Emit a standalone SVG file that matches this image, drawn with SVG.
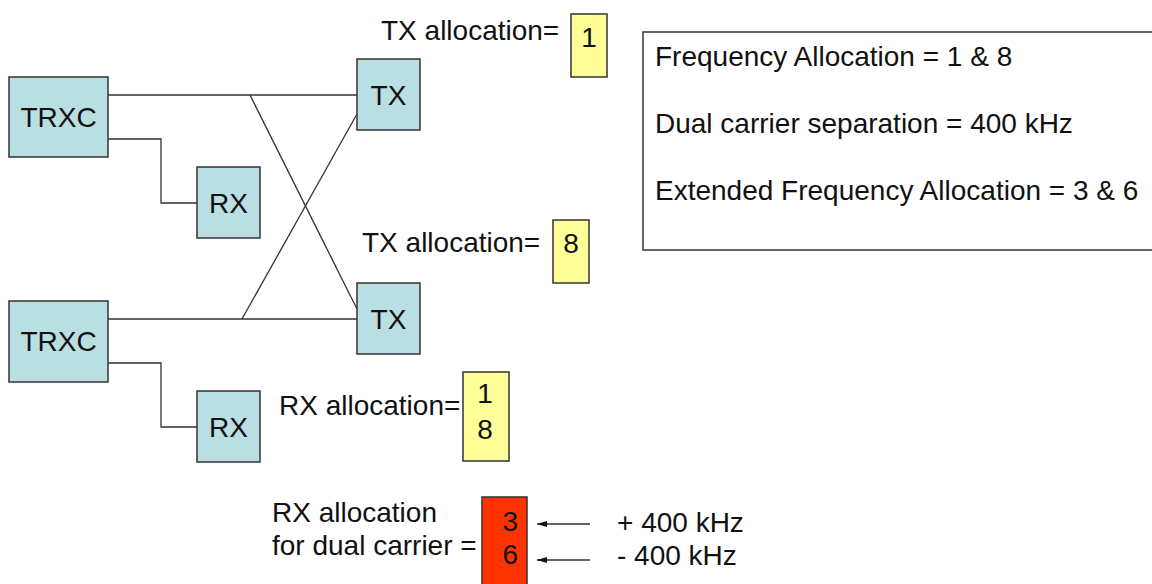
<svg xmlns="http://www.w3.org/2000/svg" width="1152" height="584" viewBox="0 0 1152 584">
<style>
text{font-family:"Liberation Sans",Arial,sans-serif;font-size:28px;fill:#111}
.node{fill:#B9DFE2;stroke:#333;stroke-width:1.5}
.yel{fill:#FFFF99;stroke:#333;stroke-width:1.5}
.red{fill:#FF3300;stroke:#333;stroke-width:1.5}
.c{text-anchor:middle}
.conn{fill:none;stroke:#333;stroke-width:1.3}
</style>
<defs>
<marker id="ah" markerWidth="10" markerHeight="8" refX="10" refY="4" orient="auto" markerUnits="userSpaceOnUse">
<path d="M0,1 L10,4 L0,7 Z" fill="#111"/>
</marker>
</defs>
<rect width="1152" height="584" fill="#fff"/>
<g id="connectors" class="conn">
<polyline points="108,95 357,95"/>
<polyline points="108,139 161,139 161,203 197,203"/>
<polyline points="250,95 357,309"/>
<polyline points="357,114 242,319"/>
<polyline points="108,319 357,319"/>
<polyline points="108,363 161,363 161,427 197,427"/>
<line x1="590" y1="524" x2="537" y2="524" marker-end="url(#ah)"/>
<line x1="590" y1="560" x2="537" y2="560" marker-end="url(#ah)"/>
</g>
<g id="trxc1"><rect class="node" x="9" y="77" width="99" height="80"/><text class="c" x="58.5" y="127">TRXC</text></g>
<g id="rx1"><rect class="node" x="197" y="167" width="63" height="71"/><text class="c" x="228.5" y="213">RX</text></g>
<g id="tx1"><rect class="node" x="357" y="59" width="63" height="71"/><text class="c" x="388.5" y="105">TX</text></g>
<g id="trxc2"><rect class="node" x="9" y="301" width="99" height="81"/><text class="c" x="58.5" y="351">TRXC</text></g>
<g id="tx2"><rect class="node" x="357" y="283" width="63" height="71"/><text class="c" x="388.5" y="329">TX</text></g>
<g id="rx2"><rect class="node" x="197" y="391" width="63" height="71"/><text class="c" x="228.5" y="437">RX</text></g>
<g id="txalloc1"><text x="381" y="40">TX allocation=</text><rect class="yel" x="571" y="14" width="36" height="63"/><text class="c" x="589" y="47">1</text></g>
<g id="txalloc2"><text x="362" y="252">TX allocation=</text><rect class="yel" x="553" y="220" width="36" height="63"/><text class="c" x="571" y="253">8</text></g>
<g id="rxalloc"><text x="279" y="415">RX allocation=</text><rect class="yel" x="463" y="372" width="46" height="89"/><text class="c" x="485" y="403">1</text><text class="c" x="485" y="439">8</text></g>
<g id="dualalloc"><text x="272" y="522">RX allocation</text><text x="272" y="555">for dual carrier =</text><rect class="red" x="482" y="497" width="45" height="95"/><text x="518" y="531" text-anchor="end">3</text><text x="518" y="564" text-anchor="end">6</text><text x="617" y="532">+ 400 kHz</text><text x="617" y="565">- 400 kHz</text></g>
<g id="infobox"><rect x="643" y="32" width="520" height="218" fill="#fff" stroke="#333" stroke-width="1.5"/><text x="655" y="66">Frequency Allocation = 1 &amp; 8</text><text x="655" y="133">Dual carrier separation = 400 kHz</text><text x="655" y="200">Extended Frequency Allocation = 3 &amp; 6</text></g>
</svg>
